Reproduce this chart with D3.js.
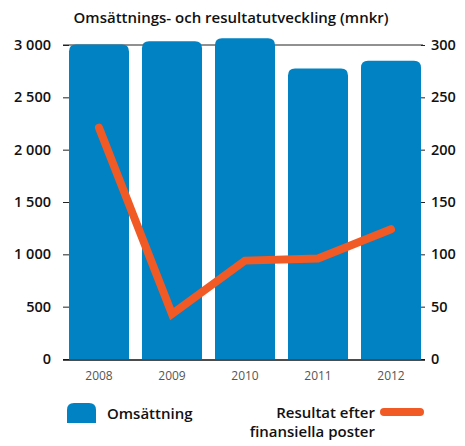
<!DOCTYPE html>
<html>
<head>
<meta charset="utf-8">
<script src="https://cdn.jsdelivr.net/npm/d3@7"></script>
<style>
  body { margin: 0; background: #fff; }
  text { font-family: "Open Sans", sans-serif; }
</style>
</head>
<body>
<div id="chart"></div>
<script>
// data
var years = ["2008", "2009", "2010", "2011", "2012"];
var omsattning = [3005, 3035, 3065, 2775, 2850];   // mnkr, left axis
var resultat = [221, 43, 94, 96, 124];              // mnkr, right axis
var leftTicks = [0, 500, 1000, 1500, 2000, 2500, 3000];
var rightTicks = [0, 50, 100, 150, 200, 250, 300];

var W = 465, H = 446;
var margin = {top: 45, right: 42, bottom: 87, left: 63},
    width = W - margin.left - margin.right,
    height = H - margin.top - margin.bottom;

var blue = "#0082c3", orange = "#f15a24";

var svg = d3.select("#chart").append("svg")
    .attr("width", W)
    .attr("height", H);

svg.append("text")
    .attr("x", 231)
    .attr("y", 23)
    .attr("text-anchor", "middle")
    .style("font-size", "15px")
    .style("font-weight", 600)
    .style("fill", "#111")
    .text("Omsättnings- och resultatutveckling (mnkr)");

var g = svg.append("g")
    .attr("transform", "translate(" + margin.left + "," + margin.top + ")");

var x = d3.scaleBand()
    .domain(years)
    .range([-0.5, 364.5])
    .paddingInner(0.178)
    .paddingOuter(0.089);

var yL = d3.scaleLinear().domain([0, 3000]).range([height, 0]);
var yR = d3.scaleLinear().domain([0, 300]).range([height, 0]);

// path with rounded top corners only
function topRounded(x0, y0, w, h, r) {
    r = Math.min(r, w / 2, h);
    return "M" + x0 + "," + (y0 + h) +
        "V" + (y0 + r) +
        "Q" + x0 + "," + y0 + " " + (x0 + r) + "," + y0 +
        "H" + (x0 + w - r) +
        "Q" + (x0 + w) + "," + y0 + " " + (x0 + w) + "," + (y0 + r) +
        "V" + (y0 + h) + "Z";
}

// top line at 3000 / 300
g.append("line")
    .attr("x1", 0).attr("x2", width)
    .attr("y1", yL(3000)).attr("y2", yL(3000))
    .attr("stroke", "#222").attr("stroke-width", 1);

// bars
g.selectAll(".bar")
    .data(years)
    .enter()
    .append("path")
    .attr("class", "bar")
    .attr("fill", blue)
    .attr("d", function(d, i) {
        return topRounded(x(d), yL(omsattning[i]), x.bandwidth(), height - yL(omsattning[i]), 7);
    });

// left axis
var axL = g.append("g")
    .call(d3.axisLeft(yL).tickValues(leftTicks).tickSize(6).tickPadding(6)
        .tickFormat(function(d) { return d3.format(",")(d).replace(",", " "); }));
axL.select(".domain").remove();
axL.selectAll("line").attr("stroke", "#222").attr("transform", "translate(6,0)");
axL.selectAll("text")
    .style("font-size", "14.5px").style("font-weight", 600).style("fill", "#111")
    .attr("font-family", null);

// right axis
var axR = g.append("g")
    .attr("transform", "translate(" + (width - 2) + ",0)")
    .call(d3.axisRight(yR).tickValues(rightTicks).tickSize(4).tickPadding(6));
axR.select(".domain").remove();
axR.selectAll("line").attr("stroke", "#222");
axR.selectAll("text")
    .style("font-size", "14.5px").style("font-weight", 600).style("fill", "#111")
    .attr("font-family", null);

// baseline
g.append("line")
    .attr("x1", 0).attr("x2", width + 2)
    .attr("y1", height + 1).attr("y2", height + 1)
    .attr("stroke", "#111").attr("stroke-width", 1.5);

// x axis labels
var axX = g.append("g")
    .attr("transform", "translate(0," + height + ")")
    .call(d3.axisBottom(x).tickSize(0).tickPadding(12));
axX.select(".domain").remove();
axX.selectAll("text")
    .style("font-size", "12px").style("fill", "#555")
    .attr("font-family", null);

// result line
var line = d3.line()
    .x(function(d, i) { return x(years[i]) + x.bandwidth() / 2; })
    .y(function(d) { return yR(d); });

g.append("path")
    .datum(resultat)
    .attr("fill", "none")
    .attr("stroke", orange)
    .attr("stroke-width", 8)
    .attr("stroke-linecap", "round")
    .attr("stroke-linejoin", "miter")
    .attr("d", line);

// legend
svg.append("path")
    .attr("fill", blue)
    .attr("d", topRounded(67, 403, 29, 20, 7));
svg.append("text")
    .attr("x", 107).attr("y", 419)
    .style("font-size", "15px").style("font-weight", 600).style("fill", "#111")
    .text("Omsättning");

svg.append("line")
    .attr("x1", 384).attr("x2", 420)
    .attr("y1", 412).attr("y2", 412)
    .attr("stroke", orange).attr("stroke-width", 8)
    .attr("stroke-linecap", "round");
svg.append("text")
    .attr("x", 375).attr("y", 418)
    .attr("text-anchor", "end")
    .style("font-size", "15px").style("font-weight", 600).style("fill", "#111")
    .text("Resultat efter");
svg.append("text")
    .attr("x", 375).attr("y", 437)
    .attr("text-anchor", "end")
    .style("font-size", "15px").style("font-weight", 600).style("fill", "#111")
    .text("finansiella poster");
</script>
</body>
</html>
